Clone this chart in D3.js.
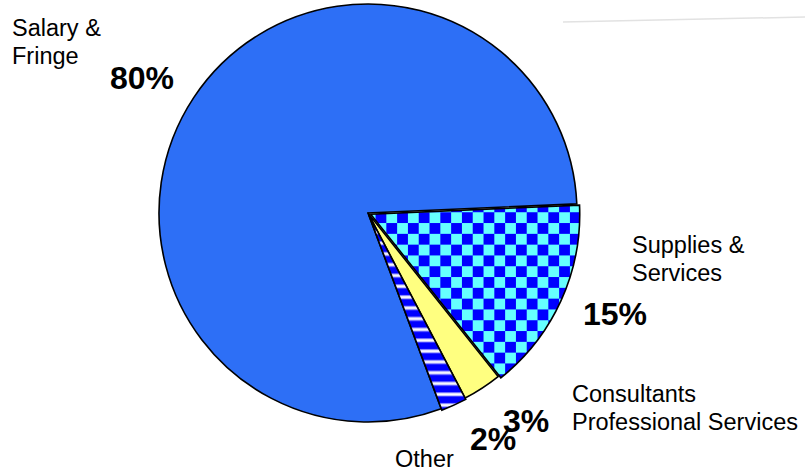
<!DOCTYPE html>
<html>
<head>
<meta charset="utf-8">
<script src="https://cdn.jsdelivr.net/npm/d3@7"></script>
<style>
  html, body { margin: 0; padding: 0; background: #fff; }
  svg { display: block; font-family: "Liberation Sans", Arial, sans-serif; }
</style>
</head>
<body>
<svg id="chart" width="805" height="471"></svg>
<script>
// Budget share by category (percent), drawn clockwise starting just above 3 o'clock
const categories = ["Supplies & Services", "Consultants Professional Services", "Other", "Salary & Fringe"];
const shares = [15, 3, 2, 80];
const percentLabels = ["15%", "3%", "2%", "80%"];
const nameLines = [["Supplies &", "Services"], ["Consultants", "Professional Services"], ["Other"], ["Salary &", "Fringe"]];

const svg = d3.select("#chart");
const cx = 368, cy = 213, radius = 209;
const startDeg = 87.5;

// Fill patterns
const defs = svg.append("defs");
const cell = 10.8;
const checker = defs.append("pattern")
  .attr("id", "checker").attr("patternUnits", "userSpaceOnUse")
  .attr("width", cell * 2).attr("height", cell * 2)
  .attr("x", 372).attr("y", 214);
checker.append("rect").attr("width", cell * 2).attr("height", cell * 2).attr("fill", "#66ffff");
checker.append("rect").attr("width", cell).attr("height", cell).attr("fill", "#0000ff");
checker.append("rect").attr("x", cell).attr("y", cell).attr("width", cell).attr("height", cell).attr("fill", "#0000ff");

const stripes = defs.append("pattern")
  .attr("id", "stripes").attr("patternUnits", "userSpaceOnUse")
  .attr("width", 20).attr("height", cell).attr("y", 2);
stripes.append("rect").attr("width", 20).attr("height", cell).attr("fill", "#0000ff");
stripes.append("rect").attr("y", 3.2).attr("width", 20).attr("height", 4).attr("fill", "#a8a8ff");
stripes.append("rect").attr("y", 4.2).attr("width", 20).attr("height", 2).attr("fill", "#ffffff");

const fills = ["url(#checker)", "#ffff80", "url(#stripes)", "#2d6ff6"];
const explode = [3, 0, 1.5, 0];

const pie = d3.pie().sort(null).value(d => d)
  .startAngle(startDeg * Math.PI / 180)
  .endAngle(startDeg * Math.PI / 180 + 2 * Math.PI);
const arcs = pie(shares);
const arc = d3.arc().innerRadius(0).outerRadius(radius);

// Faint rule at the top right
svg.append("line")
  .attr("x1", 563).attr("y1", 22).attr("x2", 805).attr("y2", 17)
  .attr("stroke", "#e2e2e2").attr("stroke-width", 1.5);

const g = svg.append("g").attr("transform", `translate(${cx},${cy})`);
// Salary drawn first so the smaller slices sit on top
const order = [3, 0, 1, 2];
order.forEach(i => {
  const a = arcs[i];
  const mid = (a.startAngle + a.endAngle) / 2;
  const dx = Math.sin(mid) * explode[i], dy = -Math.cos(mid) * explode[i];
  g.append("path")
    .attr("d", arc(a))
    .attr("transform", `translate(${dx},${dy})`)
    .attr("fill", fills[i])
    .attr("stroke", "#000")
    .attr("stroke-width", 1.6)
    .attr("stroke-linejoin", "miter");
});

// Category names
const namePos = [[632, 253], [572, 402], [395, 467], [12, 36]];
nameLines.forEach((lines, i) => {
  const t = svg.append("text")
    .attr("x", namePos[i][0]).attr("y", namePos[i][1])
    .attr("font-size", 23.5).attr("fill", "#000");
  lines.forEach((ln, k) => {
    t.append("tspan").attr("x", namePos[i][0]).attr("dy", k === 0 ? 0 : 28).text(ln);
  });
});

// Percent labels
const pctPos = [[583, 325], [503, 432], [470, 450], [110, 89]];
percentLabels.forEach((p, i) => {
  svg.append("text")
    .attr("x", pctPos[i][0]).attr("y", pctPos[i][1])
    .attr("font-size", 32).attr("font-weight", "bold").attr("fill", "#000")
    .text(p);
});
</script>
</body>
</html>
